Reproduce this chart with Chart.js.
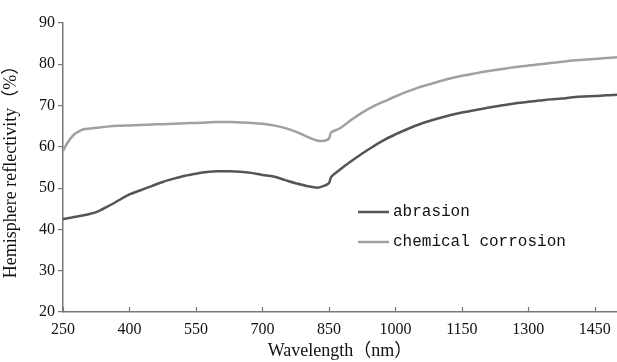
<!DOCTYPE html>
<html>
<head>
<meta charset="utf-8">
<script src="https://cdn.jsdelivr.net/npm/chart.js@4"></script>
<style>
  html, body { margin: 0; padding: 0; background: #fff; }
  #wrap { width: 617px; height: 362px; }
</style>
</head>
<body>
<div id="wrap"><canvas id="reflChart"></canvas></div>
<script>
// wavelengths (nm) and reflectivity (%)
const wavelengths = [250, 260, 275, 290, 300, 325, 350, 375, 400, 425, 450, 475, 500, 525, 550, 575, 600, 625, 650, 675, 700, 725, 750, 775, 800, 825, 840, 850, 855, 875, 900, 925, 950, 975, 1000, 1025, 1050, 1075, 1100, 1125, 1150, 1175, 1200, 1225, 1250, 1275, 1300, 1325, 1350, 1375, 1400, 1425, 1450, 1475, 1500];
const abrasion = [42.5, 42.7, 43, 43.3, 43.5, 44.2, 45.5, 47, 48.5, 49.5, 50.5, 51.5, 52.3, 53, 53.5, 53.9, 54.1, 54.1, 54, 53.7, 53.2, 52.8, 52, 51.2, 50.5, 50.1, 50.6, 51.2, 52.7, 54.5, 56.5, 58.4, 60.1, 61.7, 63, 64.2, 65.3, 66.2, 67, 67.7, 68.3, 68.8, 69.3, 69.8, 70.2, 70.6, 70.9, 71.2, 71.5, 71.7, 72, 72.2, 72.3, 72.5, 72.6];
const corrosion = [59, 61, 63, 64, 64.3, 64.6, 64.9, 65.1, 65.2, 65.3, 65.4, 65.5, 65.6, 65.7, 65.8, 65.9, 66, 66, 65.9, 65.8, 65.6, 65.2, 64.6, 63.7, 62.5, 61.5, 61.5, 62, 63.5, 64.5, 66.5, 68.3, 69.8, 71, 72.2, 73.3, 74.3, 75.1, 75.9, 76.6, 77.2, 77.7, 78.2, 78.6, 79, 79.4, 79.7, 80, 80.3, 80.6, 80.9, 81.1, 81.3, 81.5, 81.7];
const xTicks = [250, 400, 550, 700, 850, 1000, 1150, 1300, 1450];
const yTicks = [20, 30, 40, 50, 60, 70, 80, 90];

const toPoints = (ys) => wavelengths.map((x, i) => ({ x: x, y: ys[i] }));
const titleFont = '"Liberation Serif", "Noto Sans CJK SC"';

// x ticks point up into the plot, legend sits inside the plot
const extras = {
    id: 'extras',
    afterDraw(chart) {
        const ctx = chart.ctx;
        const xs = chart.scales.x;
        const bottom = chart.chartArea.bottom;
        ctx.save();
        ctx.strokeStyle = '#777';
        ctx.lineWidth = 1.2;
        xTicks.forEach(t => {
            const px = Math.round(xs.getPixelForValue(t)) + 0.5;
            ctx.beginPath();
            ctx.moveTo(px, bottom);
            ctx.lineTo(px, bottom - 5);
            ctx.stroke();
        });
        // legend
        ctx.font = '16px "Liberation Mono"';
        ctx.textBaseline = 'middle';
        ctx.fillStyle = '#111';
        chart.data.datasets.forEach((ds, i) => {
            const y = 212 + i * 30;
            ctx.strokeStyle = ds.borderColor;
            ctx.lineWidth = 2.5;
            ctx.beginPath();
            ctx.moveTo(358, y);
            ctx.lineTo(389, y);
            ctx.stroke();
            ctx.fillText(ds.label, 393, y);
        });
        ctx.restore();
    }
};

const chartCtx = document.getElementById('reflChart').getContext('2d');
new Chart(chartCtx, {
    type: 'line',
    data: {
        datasets: [{
            label: 'abrasion',
            data: toPoints(abrasion),
            borderColor: '#555555',
            borderWidth: 2.5,
            pointRadius: 0,
            tension: 0.3
        }, {
            label: 'chemical corrosion',
            data: toPoints(corrosion),
            borderColor: '#a0a0a0',
            borderWidth: 2.5,
            pointRadius: 0,
            tension: 0.3
        }]
    },
    options: {
        responsive: true,
        maintainAspectRatio: false,
        animation: false,
        layout: { padding: { top: 23, right: 0, left: 0, bottom: 0 } },
        plugins: {
            legend: { display: false },
            tooltip: { enabled: false }
        },
        scales: {
            x: {
                type: 'linear',
                min: 250,
                max: 1500,
                afterBuildTicks: (s) => { s.ticks = xTicks.map(v => ({ value: v })); },
                afterFit: (s) => { s.height = 50; },
                border: { color: '#777', width: 1.5 },
                grid: { display: false },
                ticks: {
                    color: '#111',
                    font: { family: '"Liberation Serif"', size: 16 },
                    padding: 0,
                    maxRotation: 0,
                    callback: (v) => String(v)
                },
                title: {
                    display: true,
                    text: 'Wavelength（nm）',
                    color: '#111',
                    font: { family: titleFont, size: 18 },
                    padding: { top: 0, bottom: 0 }
                }
            },
            y: {
                min: 20,
                max: 90,
                afterBuildTicks: (s) => { s.ticks = yTicks.map(v => ({ value: v })); },
                afterFit: (s) => { s.width = 63; },
                border: { color: '#777', width: 1.5 },
                grid: { drawOnChartArea: false, tickLength: 5, color: '#777', lineWidth: 1.2 },
                ticks: {
                    color: '#111',
                    font: { family: '"Liberation Serif"', size: 16 },
                    padding: 3,
                    callback: (v) => String(v)
                },
                title: {
                    display: true,
                    text: 'Hemisphere reflectivity（%）',
                    color: '#111',
                    font: { family: titleFont, size: 18 },
                    padding: { top: 0, bottom: 2 }
                }
            }
        }
    },
    plugins: [extras]
});
</script>
</body>
</html>
